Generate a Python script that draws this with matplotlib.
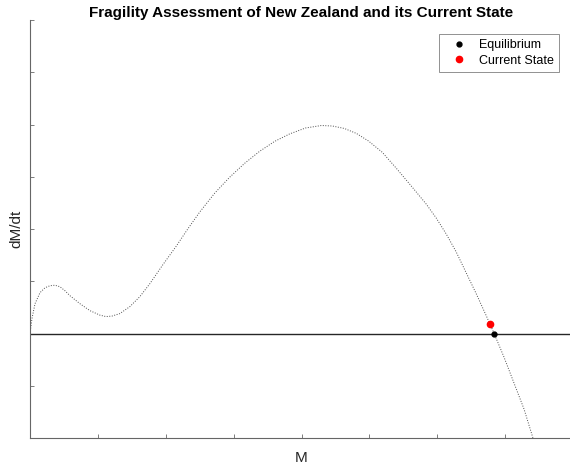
import numpy as np
import matplotlib
matplotlib.use("Agg")
import matplotlib.pyplot as plt

plt.rcParams['font.family'] = ['Liberation Sans', 'DejaVu Sans']

# dM/dt sampled along M
M_vals = [0.0, 0.029, 0.074, 0.147, 0.221, 0.294, 0.368, 0.441, 0.515, 0.588,
          0.735, 0.882, 1.029, 1.118, 1.206, 1.324, 1.471, 1.618, 1.765, 1.956,
          2.147, 2.324, 2.5, 2.721, 2.941, 3.162, 3.382, 3.603, 3.824, 4.059,
          4.294, 4.456, 4.632, 4.809, 4.985, 5.191, 5.397, 5.632, 5.838, 5.985,
          6.132, 6.279, 6.426, 6.574, 6.721, 6.838, 6.985, 7.132, 7.279, 7.41]
dMdt_vals = [0.0, 0.286, 0.571, 0.781, 0.876, 0.914, 0.924, 0.895, 0.819, 0.724,
             0.571, 0.438, 0.352, 0.324, 0.333, 0.381, 0.514, 0.705, 0.952, 1.314,
             1.657, 2.0, 2.324, 2.686, 2.990, 3.257, 3.486, 3.676, 3.819, 3.933,
             3.981, 3.971, 3.924, 3.829, 3.686, 3.467, 3.162, 2.800, 2.476, 2.210,
             1.905, 1.562, 1.162, 0.762, 0.343, 0.0, -0.457, -0.952, -1.448, -2.0]

equilibrium = (6.838, 0.0)
current_state = (6.78, 0.19)

x_ticks = np.arange(0, 9)
y_ticks = np.arange(-2, 7)

fig = plt.figure(figsize=(5.7, 4.68), dpi=100)
ax = fig.add_axes([30 / 570, 30 / 468, 543 / 570, 418 / 468])

ax.plot(M_vals, dMdt_vals, linestyle=(0, (1, 1.6)), color='0.3', lw=0.7)
ax.axhline(0, color='0.15', lw=1.0)
ax.plot(*equilibrium, 'o', color='k', ms=3.5, label='Equilibrium')
ax.plot(*current_state, 'o', color='r', ms=4.5, label='Current State')

ax.set_xlim(0, 8)
ax.set_ylim(-2, 6)
ax.set_xticks(x_ticks)
ax.set_yticks(y_ticks)
ax.set_xticklabels([])
ax.set_yticklabels([])
ax.tick_params(direction='in', length=3, width=0.6, color='0.4')
for side in ('top', 'right'):
    ax.spines[side].set_visible(False)
for side in ('left', 'bottom'):
    ax.spines[side].set_color('0.4')
    ax.spines[side].set_linewidth(0.8)

ax.set_title('Fragility Assessment of New Zealand and its Current State',
             fontsize=11, fontweight='bold', pad=2.5)
ax.set_xlabel('M', fontsize=11, color='0.15', labelpad=6)
ax.set_ylabel('dM/dt', fontsize=11, color='0.15', labelpad=1)

leg = ax.legend(loc='upper right', bbox_to_anchor=(0.974, 0.9665),
                borderaxespad=0, fontsize=9, fancybox=False, framealpha=1,
                handlelength=2.4, handletextpad=0.4, borderpad=0.4,
                labelspacing=0.3)
leg.get_frame().set_edgecolor('0.5')
leg.get_frame().set_linewidth(0.6)

fig.savefig('out.png', dpi=100)
